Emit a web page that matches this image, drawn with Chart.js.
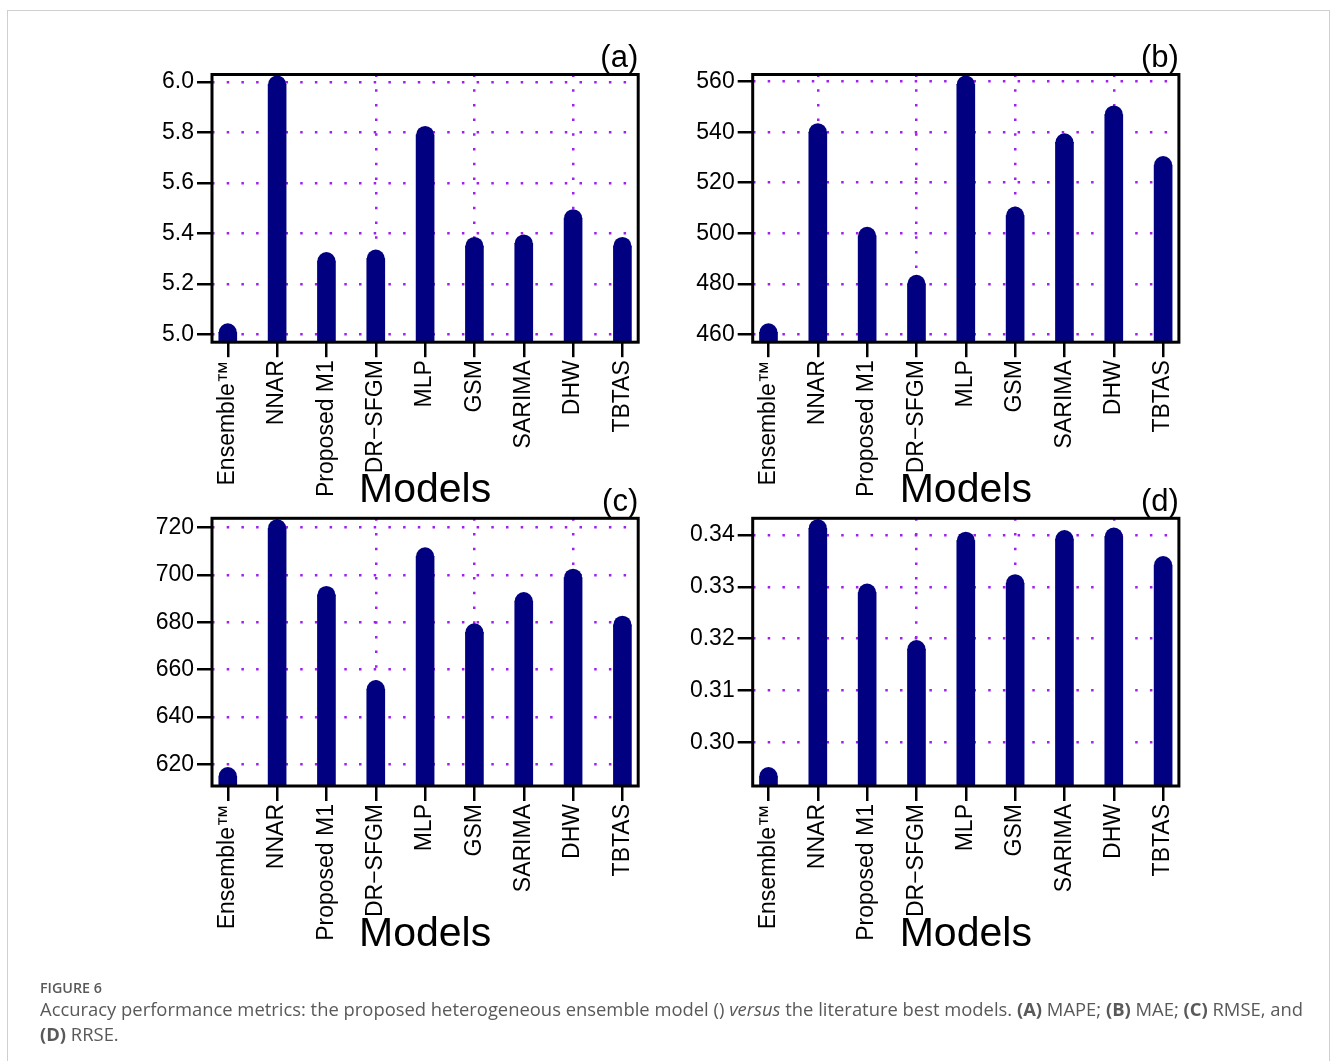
<!DOCTYPE html>
<html>
<head>
<meta charset="utf-8">
<title>Accuracy performance metrics</title>
<script src="https://cdn.jsdelivr.net/npm/chart.js@4.4.1/dist/chart.umd.min.js"></script>
<style>
  html, body { margin: 0; padding: 0; background: #fff; }
  body { width: 1331px; height: 1061px; position: relative; overflow: hidden; }
  #frame { position: absolute; left: 7px; top: 10px; width: 1323px; height: 1120px;
           border: 1px solid #cfcfcf; box-sizing: border-box; }
  canvas { position: absolute; left: 0; top: 0; }
  #caption { position: absolute; left: 40px; top: 979px; color: #595959;
             font-family: 'Open Sans', 'Noto Sans', sans-serif; }
  #caption .fig { font-size: 14.3px; font-weight: 600; line-height: 18px; }
  #caption .txt { font-size: 18.4px; line-height: 25px; white-space: nowrap; margin-top: -1px; }
</style>
</head>
<body>
<div id="frame"></div>
<canvas id="panelA" width="1331" height="1061"></canvas>
<canvas id="panelB" width="1331" height="1061"></canvas>
<canvas id="panelC" width="1331" height="1061"></canvas>
<canvas id="panelD" width="1331" height="1061"></canvas>
<div id="caption">
  <div class="fig">FIGURE 6</div>
  <div class="txt">Accuracy performance metrics: the proposed heterogeneous ensemble model () <i>versus</i> the literature best models. <b>(A)</b> MAPE; <b>(B)</b> MAE; <b>(C)</b> RMSE, and<br><b>(D)</b> RRSE.</div>
</div>
<script>
// ---- data ----------------------------------------------------------------
const models = ['Ensemble\u2122', 'NNAR', 'Proposed M1', 'DR\u2212SFGM', 'MLP', 'GSM', 'SARIMA', 'DHW', 'TBTAS'];

const mape = [5.008, 5.99, 5.29, 5.30, 5.79, 5.35, 5.36, 5.46, 5.35];
const mae  = [460.8, 540.0, 499.0, 480.0, 558.9, 507.0, 536.0, 547.0, 527.0];
const rmse = [615.0, 719.8, 691.6, 651.8, 707.9, 675.8, 689.0, 698.9, 679.0];
const rrse = [0.2935, 0.3413, 0.3289, 0.3180, 0.3389, 0.3307, 0.3392, 0.3397, 0.3342];

const mapeTicks = ['5.0', '5.2', '5.4', '5.6', '5.8', '6.0'];
const maeTicks  = ['460', '480', '500', '520', '540', '560'];
const rmseTicks = ['620', '640', '660', '680', '700', '720'];
const rrseTicks = ['0.30', '0.31', '0.32', '0.33', '0.34'];

const panelTags = ['(a)', '(b)', '(c)', '(d)'];
const xTitle = 'Models';

// ---- layout & style ------------------------------------------------------
const PAGE_W = 1331, PAGE_H = 1061;
const COL_LEFT = [212, 752.7];
const ROW_TOP = [74.5, 518.3];
const AREA_W = 426.2, AREA_H = 267.7;
const Y_AXIS_W = 95;
const X_AXIS_H = 169.4;
const TAG_SIZE = 31, TAG_GAP = 0.5;
const NAVY = '#000080';
const PURPLE = '#a020f0';
const DOTS = [2.5, 12.2];

Chart.defaults.font.family = "'Liberation Sans', Arial, Helvetica, sans-serif";
Chart.defaults.color = '#000';

// R-style axis extension: 4% of the data range on each side
function paddedRange(lo, hi) {
  const d = (hi - lo) * 0.04;
  return [lo - d, hi + d];
}

// frame around the plotting region
const plotBox = {
  id: 'plotBox',
  afterDraw(chart) {
    const { ctx, chartArea: a } = chart;
    ctx.save();
    ctx.strokeStyle = '#000';
    ctx.lineWidth = 3;
    ctx.strokeRect(a.left, a.top, a.right - a.left, a.bottom - a.top);
    ctx.restore();
  }
};

function makePanel(canvasId, values, tickLabels, tag, col, row) {
  const left = COL_LEFT[col], top = ROW_TOP[row];
  const right = left + AREA_W, bottom = top + AREA_H;
  const [yMin, yMax] = paddedRange(Math.min(...values), Math.max(...values));
  const [xMin, xMax] = paddedRange(1, models.length);
  const pts = values.map((v, i) => ({ x: i + 1, y: v }));
  const tickVals = tickLabels.map(Number);

  return new Chart(document.getElementById(canvasId), {
    type: 'bar',
    data: {
      datasets: [
        // stem of each bar
        { type: 'bar', data: pts, backgroundColor: NAVY, borderWidth: 0,
          barThickness: 18, order: 1 },
        // rounded end of each bar
        { type: 'line', data: pts, showLine: false, pointRadius: 9, pointHoverRadius: 9,
          pointBackgroundColor: NAVY, pointBorderWidth: 0, order: 0 }
      ]
    },
    options: {
      responsive: false,
      animation: false,
      events: [],
      layout: {
        padding: {
          left: left - Y_AXIS_W,
          right: PAGE_W - right,
          top: top - TAG_SIZE - TAG_GAP,
          bottom: PAGE_H - bottom - X_AXIS_H
        }
      },
      plugins: {
        legend: { display: false },
        tooltip: { enabled: false },
        title: {
          display: true, text: tag, align: 'end', fullSize: false, color: '#000',
          font: { size: TAG_SIZE, weight: 'normal', lineHeight: 1 },
          padding: { top: 0, bottom: TAG_GAP }
        }
      },
      scales: {
        x: {
          type: 'linear', min: xMin, max: xMax, offset: false, z: 1,
          afterBuildTicks: s => { s.ticks = models.map((_, i) => ({ value: i + 1 })); },
          afterFit: s => { s.height = X_AXIS_H; },
          ticks: {
            autoSkip: false, minRotation: 90, maxRotation: 90, padding: 3,
            color: '#000', font: { size: 23 },
            callback: (v, i) => models[i]
          },
          grid: {
            offset: false,
            color: c => (c.index % 2 === 1 ? PURPLE : 'rgba(0,0,0,0)'),
            lineWidth: 2.5, tickColor: '#000', tickWidth: 2.5, tickLength: 15
          },
          border: { display: false, dash: DOTS },
          title: {
            display: true, text: xTitle, color: '#000',
            font: { size: 41, lineHeight: 1 }, padding: { top: 0, bottom: 0 }
          }
        },
        y: {
          type: 'linear', min: yMin, max: yMax, beginAtZero: false, z: 1,
          afterBuildTicks: s => { s.ticks = tickVals.map(v => ({ value: v })); },
          afterFit: s => { s.width = Y_AXIS_W; },
          ticks: {
            padding: 3, color: '#000', font: { size: 23 },
            callback: (v, i) => tickLabels[i]
          },
          grid: {
            color: PURPLE, lineWidth: 2.5, tickColor: '#000', tickWidth: 2.5, tickLength: 15
          },
          border: { display: false, dash: DOTS }
        }
      }
    },
    plugins: [plotBox]
  });
}

makePanel('panelA', mape, mapeTicks, panelTags[0], 0, 0);
makePanel('panelB', mae,  maeTicks,  panelTags[1], 1, 0);
makePanel('panelC', rmse, rmseTicks, panelTags[2], 0, 1);
makePanel('panelD', rrse, rrseTicks, panelTags[3], 1, 1);
</script>
</body>
</html>
